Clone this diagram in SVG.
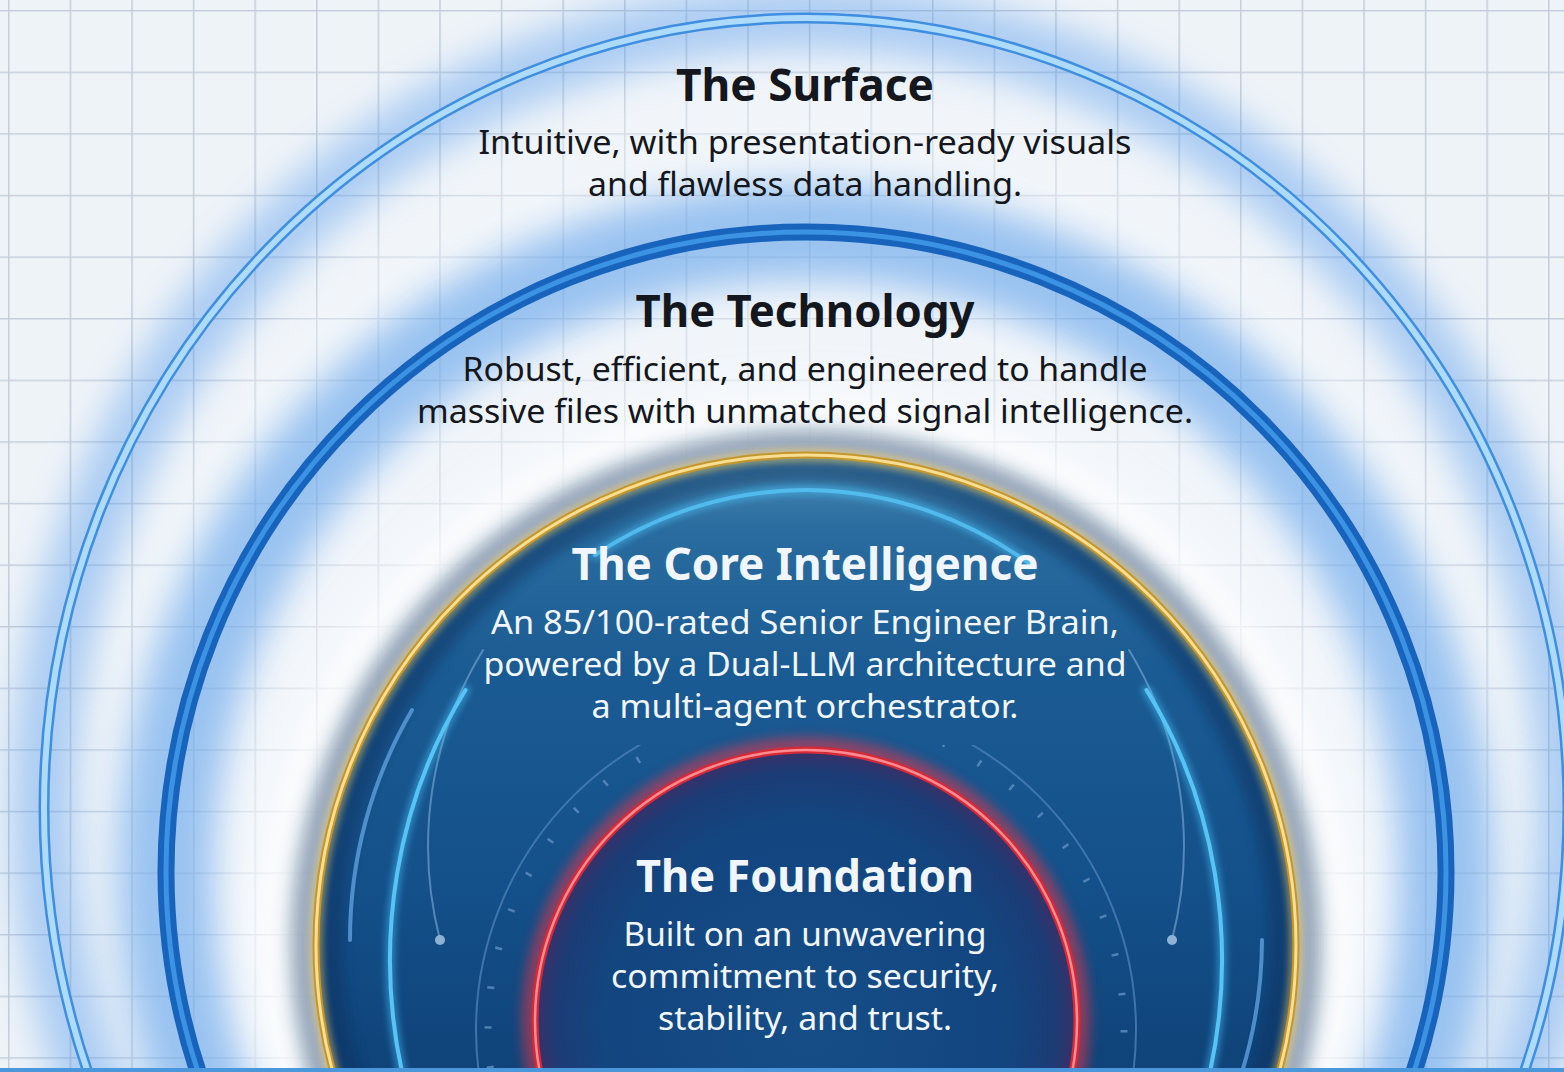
<svg xmlns="http://www.w3.org/2000/svg" width="1564" height="1072" viewBox="0 0 1564 1072">
<defs>
<style>
.title{font-family:"Noto Sans","Liberation Sans",sans-serif;font-weight:700;font-size:44px;text-anchor:middle}
.body{font-family:"Noto Sans","Liberation Sans",sans-serif;font-weight:400;font-size:32px;text-anchor:middle}
.dark{fill:#14171d}
.light{fill:#f1f6fc}
</style>
<pattern id="grid" x="8" y="10" width="61.6" height="61.6" patternUnits="userSpaceOnUse">
<path d="M0 0.8H61.6M0.8 0V61.6" stroke="#c5cfdb" stroke-width="1.6" fill="none"/>
</pattern>
<filter id="b3" x="-20%" y="-20%" width="140%" height="140%"><feGaussianBlur stdDeviation="3"/></filter>
<filter id="b6" x="-20%" y="-20%" width="140%" height="140%"><feGaussianBlur stdDeviation="6"/></filter>
<filter id="b10" x="-20%" y="-20%" width="140%" height="140%"><feGaussianBlur stdDeviation="10"/></filter>
<filter id="b18" x="-20%" y="-20%" width="140%" height="140%"><feGaussianBlur stdDeviation="18"/></filter>
<filter id="b28" x="-20%" y="-20%" width="140%" height="140%"><feGaussianBlur stdDeviation="28"/></filter>
<linearGradient id="coreFill" x1="0" y1="455" x2="0" y2="1072" gradientUnits="userSpaceOnUse">
<stop offset="0" stop-color="#4a8db5"/>
<stop offset="0.12" stop-color="#2a6c9f"/>
<stop offset="0.35" stop-color="#1b5b93"/>
<stop offset="0.7" stop-color="#14508a"/>
<stop offset="1" stop-color="#0f4379"/>
</linearGradient>
<radialGradient id="foundFill" cx="806" cy="1021" r="271" gradientUnits="userSpaceOnUse">
<stop offset="0" stop-color="#164e88"/>
<stop offset="0.75" stop-color="#13457f"/>
<stop offset="0.92" stop-color="#1c3c76"/>
<stop offset="1" stop-color="#3a3068"/>
</radialGradient>
<clipPath id="tickClip"><rect x="0" y="745" width="1564" height="327"/></clipPath>
</defs>

<g id="background">
<rect width="1564" height="1072" fill="#eef3f8"/>
<rect width="1564" height="1072" fill="url(#grid)"/>
<ellipse cx="806" cy="808" rx="762" ry="790" fill="none" stroke="#4f97ec" stroke-width="66" opacity="0.42" filter="url(#b18)"/>
<ellipse cx="806" cy="820" rx="700" ry="740" fill="#f6f9fd" opacity="0.4" filter="url(#b28)"/>
<circle cx="806" cy="872" r="640" fill="none" stroke="#3a8ce6" stroke-width="96" opacity="0.48" filter="url(#b18)"/>
<circle cx="806" cy="945" r="550" fill="#ffffff" opacity="0.85" filter="url(#b28)"/>
</g>

<g id="surface">
<ellipse cx="806" cy="808" rx="762" ry="790" fill="none" stroke="#3f8ee0" stroke-width="11"/>
<ellipse cx="806" cy="808" rx="762" ry="790" fill="none" stroke="#aedbfc" stroke-width="6"/>
<text class="title dark" x="805" y="101" textLength="258" lengthAdjust="spacingAndGlyphs">The Surface</text>
<text class="body dark" x="805" y="154" textLength="653" lengthAdjust="spacingAndGlyphs">Intuitive, with presentation-ready visuals</text>
<text class="body dark" x="805" y="196" textLength="434" lengthAdjust="spacingAndGlyphs">and flawless data handling.</text>
</g>

<g id="technology">
<circle cx="806" cy="872" r="640" fill="none" stroke="#1864bd" stroke-width="17"/>
<circle cx="806" cy="872" r="640" fill="none" stroke="#3c93e4" stroke-width="5"/>
<text class="title dark" x="805" y="327" textLength="339" lengthAdjust="spacingAndGlyphs">The Technology</text>
<text class="body dark" x="805" y="381" textLength="685" lengthAdjust="spacingAndGlyphs">Robust, efficient, and engineered to handle</text>
<text class="body dark" x="805" y="423" textLength="776" lengthAdjust="spacingAndGlyphs">massive files with unmatched signal intelligence.</text>
</g>

<g id="core">
<circle cx="806" cy="945" r="502" fill="none" stroke="#0d3461" stroke-width="24" opacity="0.5" filter="url(#b10)"/>
<circle cx="806" cy="945" r="490" fill="url(#coreFill)"/>
<circle cx="806" cy="945" r="476" fill="none" stroke="#0a2f5c" stroke-width="26" opacity="0.45" filter="url(#b6)"/>
<circle cx="806" cy="945" r="490" fill="none" stroke="#f5c950" stroke-width="14" opacity="0.45" filter="url(#b3)"/>
<circle cx="806" cy="945" r="490" fill="none" stroke="#c4962f" stroke-width="7"/>
<circle cx="806" cy="945" r="490" fill="none" stroke="#f7de90" stroke-width="3"/>
<g fill="none" stroke-linecap="round">
<path d="M412 710 A456 456 0 0 0 350 940" stroke="#5b9ad6" stroke-width="4" opacity="0.85"/>
<path d="M1262 940 A456 456 0 0 1 1242 1072" stroke="#5b9ad6" stroke-width="4" opacity="0.85"/>
<path d="M483 650 A377 377 0 0 0 440 940" stroke="#6f9fcc" stroke-width="2" opacity="0.7"/>
<path d="M1129 650 A377 377 0 0 1 1172 940" stroke="#6f9fcc" stroke-width="2" opacity="0.7"/>
<g stroke="#4cc6ff" stroke-width="10" opacity="0.45" filter="url(#b3)">
<path d="M465.5 690 A416 470 0 0 0 402 1072"/>
<path d="M1146.5 690 A416 470 0 0 1 1210 1072"/>
<path d="M595 555 A416 470 0 0 1 1030 564"/>
</g>
<g stroke="#58c4f5" stroke-width="4">
<path d="M465.5 690 A416 470 0 0 0 402 1072"/>
<path d="M1146.5 690 A416 470 0 0 1 1210 1072"/>
<path d="M595 555 A416 470 0 0 1 1030 564" opacity="0.8"/>
</g>
</g>
<circle cx="440" cy="940" r="5" fill="#8fb2d4"/>
<circle cx="1172" cy="940" r="5" fill="#8fb2d4"/>
<g clip-path="url(#tickClip)" fill="none">
<circle cx="806" cy="1030" r="330" stroke="#4a7fb6" stroke-width="2" opacity="0.8"/>
<circle cx="806" cy="1030" r="318" stroke="#5d8cbc" stroke-width="7" stroke-dasharray="2.5 37.5" opacity="0.85"/>
</g>
<text class="title light" x="805" y="580" textLength="467" lengthAdjust="spacingAndGlyphs">The Core Intelligence</text>
<text class="body light" x="805" y="634" textLength="628" lengthAdjust="spacingAndGlyphs">An 85/100-rated Senior Engineer Brain,</text>
<text class="body light" x="805" y="676" textLength="643" lengthAdjust="spacingAndGlyphs">powered by a Dual-LLM architecture and</text>
<text class="body light" x="805" y="718" textLength="427" lengthAdjust="spacingAndGlyphs">a multi-agent orchestrator.</text>
</g>

<g id="foundation">
<circle cx="806" cy="1021" r="271" fill="none" stroke="#ff3040" stroke-width="26" opacity="0.5" filter="url(#b6)"/>
<circle cx="806" cy="1021" r="271" fill="url(#foundFill)"/>
<circle cx="806" cy="1021" r="271" fill="none" stroke="#d42a38" stroke-width="7"/>
<circle cx="806" cy="1021" r="271" fill="none" stroke="#ff8a90" stroke-width="2.5"/>
<text class="title light" x="805" y="892" textLength="338" lengthAdjust="spacingAndGlyphs">The Foundation</text>
<text class="body light" x="805" y="946" textLength="363" lengthAdjust="spacingAndGlyphs">Built on an unwavering</text>
<text class="body light" x="805" y="988" textLength="388" lengthAdjust="spacingAndGlyphs">commitment to security,</text>
<text class="body light" x="805" y="1030" textLength="294" lengthAdjust="spacingAndGlyphs">stability, and trust.</text>
</g>

<rect x="0" y="1068" width="1564" height="4" fill="#4a97dc"/>
</svg>
